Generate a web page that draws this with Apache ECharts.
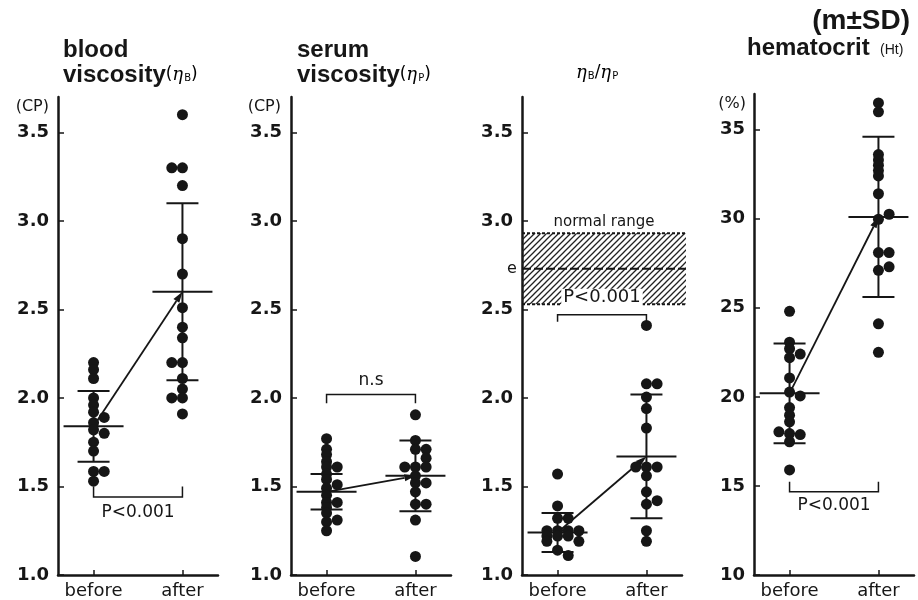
<!DOCTYPE html>
<html><head><meta charset="utf-8">
<script src="https://cdn.jsdelivr.net/npm/echarts@6/dist/echarts.min.js"></script>
<style>html,body{margin:0;padding:0;background:#fff}#c{width:918px;height:600px}</style>
</head><body><div id="c"></div>
<script>
// ---------- data ----------
const groups = ['before', 'after'];
const viscTicks = [1.0, 1.5, 2.0, 2.5, 3.0, 3.5];
const hctTicks = [10, 15, 20, 25, 30, 35];

// each point: [value, column slot (jitter when dots overlap)]
const bloodBefore = [[2.20,0],[2.16,0],[2.11,0],[2.00,0],[1.96,0],[1.92,0],[1.89,1],[1.86,0],[1.82,0],[1.80,1],[1.75,0],[1.70,0],[1.585,0],[1.585,1],[1.53,0]];
const bloodAfter  = [[3.60,0],[3.30,-1],[3.30,0],[3.20,0],[2.90,0],[2.70,0],[2.51,0],[2.40,0],[2.34,0],[2.20,-1],[2.20,0],[2.11,0],[2.05,0],[2.00,-1],[2.00,0],[1.91,0]];
const serumBefore = [[1.77,0],[1.71,0],[1.68,0],[1.64,0],[1.61,0],[1.61,1],[1.57,0],[1.54,0],[1.51,1],[1.49,0],[1.45,0],[1.41,0],[1.41,1],[1.38,0],[1.35,0],[1.31,1],[1.30,0],[1.25,0]];
const serumAfter  = [[1.905,0],[1.76,0],[1.71,0],[1.71,1],[1.66,1],[1.61,-1],[1.61,0],[1.61,1],[1.56,0],[1.52,0],[1.52,1],[1.47,0],[1.40,0],[1.40,1],[1.31,0],[1.105,0]];
const ratioBefore = [[1.57,0],[1.39,0],[1.32,0],[1.32,1],[1.25,-1],[1.25,0],[1.25,1],[1.25,2],[1.22,-1],[1.22,0],[1.22,1],[1.19,-1],[1.19,2],[1.14,0],[1.11,1]];
const ratioAfter  = [[2.41,0],[2.08,0],[2.08,1],[2.005,0],[1.94,0],[1.83,0],[1.61,-1],[1.61,0],[1.61,1],[1.56,0],[1.47,0],[1.42,1],[1.40,0],[1.25,0],[1.19,0]];
const hctBefore   = [[24.8,0],[23.07,0],[22.7,0],[22.4,1],[22.2,0],[21.06,0],[20.27,0],[20.05,1],[19.4,0],[18.97,0],[18.6,0],[18.04,-1],[17.94,0],[17.88,1],[17.48,0],[15.9,0]];
const hctAfter    = [[37.1,0],[36.5,0],[36.0,0],[33.6,0],[33.3,0],[33.0,0],[32.7,0],[32.4,0],[31.4,0],[30.25,1],[29.97,0],[28.1,0],[28.1,1],[27.1,0],[27.3,1],[24.1,0],[22.5,0]];

// [mean, SD] for before / after
const bloodStats = [[1.84,0.20],[2.60,0.50]];
const serumStats = [[1.47,0.10],[1.56,0.20]];
const ratioStats = [[1.24,0.11],[1.67,0.35]];
const hctStats   = [[20.2,2.8],[30.1,4.5]];

// significance brackets: [bar level, leg end level, label]
const bloodSig = [1.44, 1.50, 'P<0.001'];
const serumSig = [2.02, 1.97, 'n.s'];
const ratioSig = [2.47, 2.43, 'P<0.001'];
const hctSig   = [14.68, 15.24, 'P<0.001'];

// normal range of ηB/ηP: [low, high, centre]
const normalRange = [2.53, 2.93, 2.73];

// ---------- drawing ----------
const INK = '#161616';
const JIT = 0.12;
const FONT = 'DejaVu Sans';

function pts(arr, g) { return arr.map(p => [g + p[1] * JIT, p[0]]); }

function errRender(params, api) {
  const x = api.value(0), m = api.value(1), sd = api.value(2);
  const c = api.coord([x, m]), t = api.coord([x, m + sd]), b = api.coord([x, m - sd]);
  const st = { stroke: INK, lineWidth: 2 };
  return { type: 'group', children: [
    { type: 'line', shape: { x1: c[0], y1: t[1], x2: c[0], y2: b[1] }, style: st },
    { type: 'line', shape: { x1: c[0] - 30, y1: c[1], x2: c[0] + 30, y2: c[1] }, style: st },
    { type: 'line', shape: { x1: c[0] - 16, y1: t[1], x2: c[0] + 16, y2: t[1] }, style: st },
    { type: 'line', shape: { x1: c[0] - 16, y1: b[1], x2: c[0] + 16, y2: b[1] }, style: st }
  ]};
}

function arrowRender(params, api) {
  const p0 = api.coord([api.value(0), api.value(1)]);
  const p1 = api.coord([api.value(2), api.value(3)]);
  const ang = Math.atan2(p1[1] - p0[1], p1[0] - p0[0]);
  const L = 11, W = 3.5;
  const bx = p1[0] - L * Math.cos(ang), by = p1[1] - L * Math.sin(ang);
  const nx = -Math.sin(ang), ny = Math.cos(ang);
  return { type: 'group', children: [
    { type: 'line', shape: { x1: p0[0], y1: p0[1], x2: bx, y2: by }, style: { stroke: INK, lineWidth: 1.8 } },
    { type: 'polygon', shape: { points: [[p1[0], p1[1]], [bx + nx * W, by + ny * W], [bx - nx * W, by - ny * W]] }, style: { fill: INK } }
  ]};
}

function bracketRender(label, textOffset, bg) {
  return function (params, api) {
    const a = api.coord([1, api.value(0)]);
    const b = api.coord([2, api.value(0)]);
    const la = api.coord([1, api.value(1)]);
    const st = { stroke: INK, lineWidth: 1.5, fill: null };
    return { type: 'group', children: [
      { type: 'polyline', shape: { points: [[a[0], la[1]], [a[0], a[1]], [b[0], b[1]], [b[0], la[1]]] }, style: st },
      { type: 'text', style: { text: label, x: (a[0] + b[0]) / 2, y: a[1] + textOffset, align: 'center', verticalAlign: 'middle',
        font: (bg ? '18px "' : '17px "') + FONT + '"', fill: INK, backgroundColor: bg ? '#fff' : null, padding: bg ? [0, 2, 0, 2] : 0 } }
    ]};
  };
}

// hatch pattern
const pat = document.createElement('canvas');
pat.width = 6; pat.height = 6;
(function () {
  const g = pat.getContext('2d');
  g.strokeStyle = '#222'; g.lineWidth = 1.3;
  g.beginPath();
  g.moveTo(0, 6); g.lineTo(6, 0);
  g.moveTo(-1, 1); g.lineTo(1, -1);
  g.moveTo(5, 7); g.lineTo(7, 5);
  g.stroke();
})();

function hatchRender(params, api) {
  const cs = params.coordSys;
  const top = api.coord([1, api.value(1)])[1];
  const bot = api.coord([1, api.value(0)])[1];
  const mid = api.coord([1, api.value(2)])[1];
  const x0 = cs.x, x1 = cs.x + cs.width + 4;
  return { type: 'group', children: [
    { type: 'rect', shape: { x: x0, y: top, width: x1 - x0, height: bot - top }, style: { fill: { image: pat, repeat: 'repeat' } } },
    { type: 'line', shape: { x1: x0, y1: top, x2: x1, y2: top }, style: { stroke: INK, lineWidth: 2, lineDash: [3, 2] } },
    { type: 'line', shape: { x1: x0, y1: bot, x2: x1, y2: bot }, style: { stroke: INK, lineWidth: 2, lineDash: [3, 2] } },
    { type: 'line', shape: { x1: x0, y1: mid, x2: x1, y2: mid }, style: { stroke: INK, lineWidth: 2, lineDash: [9, 3] } },
    { type: 'text', style: { text: 'normal range', x: (x0 + x1) / 2, y: top - 11, align: 'center', verticalAlign: 'middle', font: '15px "' + FONT + '"', fill: INK } },
    { type: 'text', style: { text: 'e', x: x0 - 10, y: mid, align: 'center', verticalAlign: 'middle', font: '16px "' + FONT + '"', fill: INK } }
  ]};
}

const panels = [
  { left: 58,  top: 97, height: 480, min: 1, max: 3.7, ticks: viscTicks, fmt: v => v.toFixed(1), b: bloodBefore, a: bloodAfter, s: bloodStats, sig: bloodSig, sigOff: 15 },
  { left: 291, top: 97, height: 480, min: 1, max: 3.7, ticks: viscTicks, fmt: v => v.toFixed(1), b: serumBefore, a: serumAfter, s: serumStats, sig: serumSig, sigOff: -14 },
  { left: 522, top: 97, height: 480, min: 1, max: 3.7, ticks: viscTicks, fmt: v => v.toFixed(1), b: ratioBefore, a: ratioAfter, s: ratioStats, sig: ratioSig, sigOff: -17, bg: true, range: normalRange },
  { left: 754, top: 94, height: 483, min: 10, max: 37, ticks: hctTicks, fmt: v => String(v), b: hctBefore, a: hctAfter, s: hctStats, sig: hctSig, sigOff: 14 }
];

const grid = [], xAxis = [], yAxis = [], series = [];
panels.forEach((p, i) => {
  grid.push({ left: p.left, top: p.top, width: 160, height: p.height });
  xAxis.push({ gridIndex: i, type: 'value', min: 0.6, max: 2.4,
    axisLine: { onZero: false, lineStyle: { color: INK, width: 2.5 } },
    axisTick: { inside: true, length: 5, customValues: [1, 2], lineStyle: { color: INK, width: 1.5 } },
    axisLabel: { customValues: [1, 2], formatter: v => groups[Math.round(v) - 1], margin: 7, fontSize: 18, fontFamily: FONT, color: INK },
    splitLine: { show: false } });
  yAxis.push({ gridIndex: i, type: 'value', min: p.min, max: p.max,
    axisLine: { show: true, onZero: false, lineStyle: { color: INK, width: 2.5 } },
    axisTick: { show: true, inside: true, length: 6, customValues: p.ticks, lineStyle: { color: INK, width: 1.5 } },
    axisLabel: { customValues: p.ticks, formatter: p.fmt, margin: 9, fontSize: 18, fontWeight: 'bold', fontFamily: FONT, color: INK },
    splitLine: { show: false } });
  if (p.range) {
    series.push({ type: 'custom', xAxisIndex: i, yAxisIndex: i, renderItem: hatchRender, data: [p.range], encode: { x: -1, y: [0, 1] }, silent: true, z: 1 });
  }
  series.push({ type: 'custom', xAxisIndex: i, yAxisIndex: i, renderItem: errRender,
    data: [[1, p.s[0][0], p.s[0][1]], [2, p.s[1][0], p.s[1][1]]], encode: { x: 0, y: 1 }, silent: true, z: 3 });
  series.push({ type: 'custom', xAxisIndex: i, yAxisIndex: i, renderItem: arrowRender,
    data: [[1, p.s[0][0], 2, p.s[1][0]]], encode: { x: [0, 2], y: [1, 3] }, silent: true, z: 3 });
  series.push({ type: 'custom', xAxisIndex: i, yAxisIndex: i, renderItem: bracketRender(p.sig[2], p.sigOff, p.bg),
    data: [[p.sig[0], p.sig[1]]], encode: { y: [0, 1] }, silent: true, z: 4 });
  series.push({ type: 'scatter', xAxisIndex: i, yAxisIndex: i, data: pts(p.b, 1).concat(pts(p.a, 2)),
    symbolSize: 11, itemStyle: { color: INK, opacity: 1 }, silent: true, z: 5 });
});

const TF = '"Liberation Sans", Arial, sans-serif';
const rich = {
  b: { font: 'bold 24px ' + TF, fill: INK, color: INK },
  p: { fontSize: 17, fontFamily: FONT, color: INK },
  e: { fontSize: 18, fontFamily: '"DejaVu Serif"', fontStyle: 'italic', color: INK },
  s: { fontSize: 10, fontFamily: FONT, color: INK, padding: [7, 0, 0, 1] }
};
const graphic = [
  { type: 'text', left: 63, top: 38, style: { text: 'blood', font: 'bold 24px ' + TF, fill: INK } },
  { type: 'text', left: 63, top: 63, style: { text: '{b|viscosity}{p|(}{e|η}{s|B}{p|)}', rich: rich } },
  { type: 'text', left: 297, top: 38, style: { text: 'serum', font: 'bold 24px ' + TF, fill: INK } },
  { type: 'text', left: 297, top: 63, style: { text: '{b|viscosity}{p|(}{e|η}{s|P}{p|)}', rich: rich } },
  { type: 'text', left: 576, top: 64, style: { text: '{e|η}{s|B}{p|/}{e|η}{s|P}', rich: rich } },
  { type: 'text', right: 8, top: 7, style: { text: '(m±SD)', font: 'bold 28px ' + TF, fill: INK } },
  { type: 'text', left: 747, top: 36, style: { text: 'hematocrit', font: 'bold 24px ' + TF, fill: INK } },
  { type: 'text', left: 880, top: 43, style: { text: '(Ht)', font: '14px ' + TF, fill: INK } },
  { type: 'text', right: 918 - 49, top: 99, style: { text: '(CP)', font: '16px "' + FONT + '"', fill: INK } },
  { type: 'text', right: 918 - 281, top: 99, style: { text: '(CP)', font: '16px "' + FONT + '"', fill: INK } },
  { type: 'text', right: 918 - 746, top: 96, style: { text: '(%)', font: '16px "' + FONT + '"', fill: INK } }
];

const chart = echarts.init(document.getElementById('c'), null, { renderer: 'canvas' });
chart.setOption({ animation: false, backgroundColor: '#fff', grid, xAxis, yAxis, series, graphic });
</script>
</body></html>
